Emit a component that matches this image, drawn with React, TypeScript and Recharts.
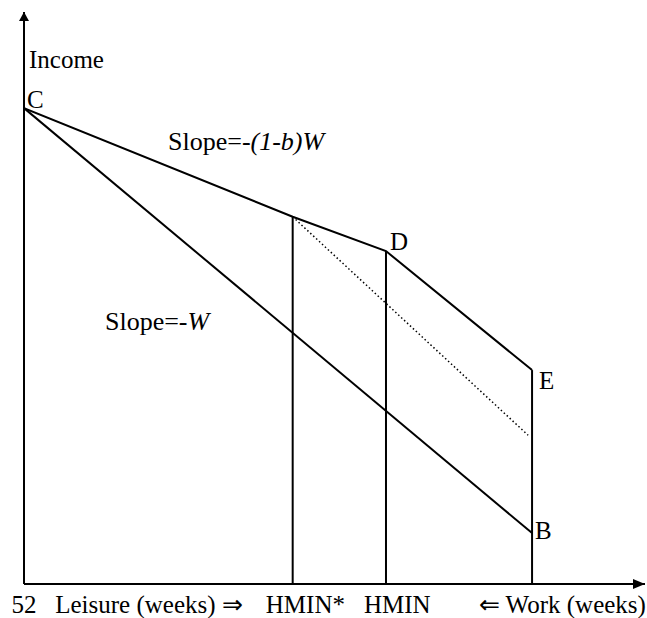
import React from "react";
import {
  LineChart,
  Line,
  XAxis,
  YAxis,
  ReferenceDot,
} from "recharts";

// x: weeks of work measured from the origin (52 weeks of leisure), y: income units
const X_MAX = 63.56;
const Y_MAX = 100;

const noTaxX = [0, 52];
const noTaxY = [83.2, 8.9];

const kinkedX = [0, 27.5, 37.05, 52];
const kinkedY = [83.2, 64.2, 58.2, 37.4];

const dottedX = [27.5, 51.6];
const dottedY = [64.2, 26.0];

// vertical drops from the kinks to the axis
const dropX = [27.5, 37.05, 52];
const dropY = [64.2, 58.2, 37.4];

const xTickPos = [0, 12.8, 28.8, 38.2, 55.1];
const xTickLabels = ["52", "Leisure (weeks) \u21D2", "HMIN*", "HMIN", "\u21D0 Work (weeks)"];

const pointNames = ["C", "D", "E", "B"];
const pointX = [0, 37.05, 52, 52];
const pointY = [83.2, 58.2, 37.4, 8.9];
const pointOffsets = [
  [3, 0],
  [4, -1],
  [7, 19],
  [3, 6],
];

const FONT = "'Liberation Serif', 'Times New Roman', serif";
const FS = 25;

const toPoints = (xs: number[], ys: number[]) => xs.map((x, i) => ({ x, y: ys[i] }));

const makeLabel =
  (content: React.ReactNode, ox: number, oy: number, size = FS) =>
  (props: any) => {
    const vb = props.viewBox || { x: 0, y: 0 };
    return (
      <text
        x={vb.x + ox}
        y={vb.y + oy}
        fill="#000"
        style={{ fontFamily: FONT, fontSize: size }}
      >
        {content}
      </text>
    );
  };

const XTick = (props: any) => {
  const { x, y, payload } = props;
  const i = xTickPos.indexOf(payload.value);
  return (
    <text
      x={x}
      y={y}
      dy={29}
      textAnchor="middle"
      fill="#000"
      style={{ fontFamily: FONT, fontSize: FS }}
    >
      {xTickLabels[i]}
    </text>
  );
};

const UpArrow = (props: any) => {
  const { cx, cy } = props;
  return <polygon points={`${cx},${cy} ${cx - 5},${cy + 9} ${cx + 5},${cy + 9}`} fill="#000" />;
};

const RightArrow = (props: any) => {
  const { cx, cy } = props;
  return <polygon points={`${cx},${cy} ${cx - 12},${cy - 5} ${cx - 12},${cy + 5}`} fill="#000" />;
};

export default function App(): JSX.Element {
  const lineProps = {
    dataKey: "y",
    stroke: "#000",
    strokeWidth: 2,
    dot: false,
    activeDot: false,
    isAnimationActive: false,
    type: "linear" as const,
  };

  return (
    <div
      style={{
        position: "absolute",
        left: 0,
        top: 0,
        background: "#fff",
        fontFamily: FONT,
      }}
    >
      <LineChart width={647} height={618} margin={{ top: 12, right: 2, bottom: 0, left: 0 }}>
        <XAxis
          dataKey="x"
          type="number"
          domain={[0, X_MAX]}
          allowDataOverflow
          ticks={xTickPos}
          interval={0}
          tick={<XTick />}
          tickLine={false}
          tickSize={0}
          tickMargin={0}
          height={34}
          axisLine={{ stroke: "#000", strokeWidth: 2 }}
        />
        <YAxis
          type="number"
          domain={[0, Y_MAX]}
          allowDataOverflow
          width={24}
          tick={false}
          tickLine={false}
          axisLine={{ stroke: "#000", strokeWidth: 2 }}
          label={{ content: makeLabel("Income", 29, 56) }}
        />

        <Line {...lineProps} data={toPoints(noTaxX, noTaxY)} />
        <Line {...lineProps} data={toPoints(kinkedX, kinkedY)} />
        <Line
          {...lineProps}
          data={toPoints(dottedX, dottedY)}
          strokeWidth={1.5}
          strokeDasharray="1.5 2.5"
        />
        {dropX.map((x, i) => (
          <Line key={`drop-${i}`} {...lineProps} data={toPoints([x, x], [0, dropY[i]])} />
        ))}

        {pointNames.map((name, i) => (
          <ReferenceDot
            key={name}
            x={pointX[i]}
            y={pointY[i]}
            r={0}
            fill="none"
            stroke="none"
            label={{ content: makeLabel(name, pointOffsets[i][0], pointOffsets[i][1]) }}
          />
        ))}

        <ReferenceDot
          x={14.74}
          y={75.9}
          r={0}
          fill="none"
          stroke="none"
          label={{
            content: makeLabel(
              <>
                Slope=-<tspan fontStyle="italic">(1-b)W</tspan>
              </>,
              0,
              0,
              26
            ),
          }}
        />
        <ReferenceDot
          x={8.29}
          y={44.4}
          r={0}
          fill="none"
          stroke="none"
          label={{
            content: makeLabel(
              <>
                Slope=-<tspan fontStyle="italic">W</tspan>
              </>,
              0,
              0,
              26
            ),
          }}
        />

        <ReferenceDot x={0} y={Y_MAX} shape={<UpArrow />} />
        <ReferenceDot x={X_MAX} y={0} shape={<RightArrow />} />
      </LineChart>
    </div>
  );
}
